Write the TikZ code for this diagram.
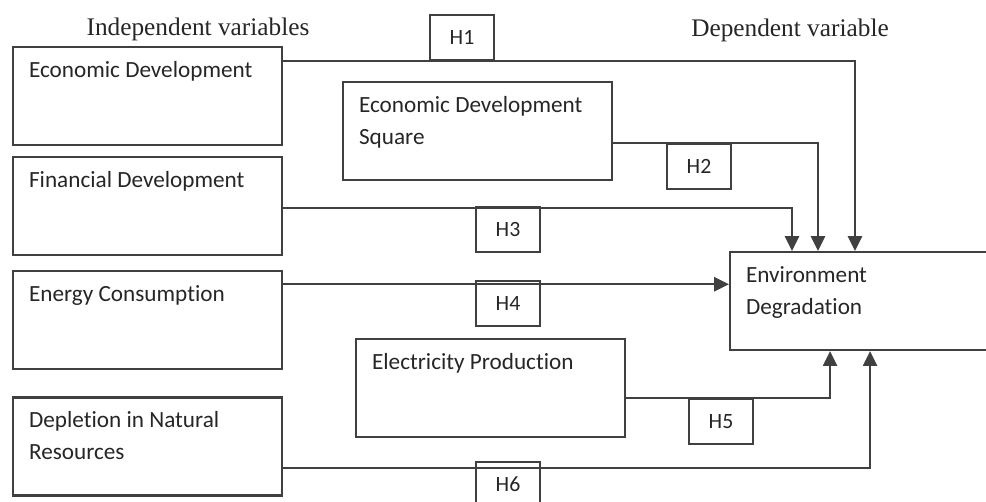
\documentclass[tikz,border=0pt]{standalone}
\usepackage{fontspec}
\usepackage{tikz}
\usetikzlibrary{positioning,arrows.meta,calc}
\newfontfamily\boxfont[Ligatures=NoCommon]{Carlito}
\newfontfamily\headfont{Liberation Serif}
\definecolor{linegray}{HTML}{404040}
\definecolor{txtgray}{HTML}{262626}

\begin{document}
\begin{tikzpicture}[x=0.025cm, y=-0.025cm]
\tikzset{
    block/.style={rectangle, draw=linegray, line width=1.5pt, minimum width=6.72cm, minimum height=2.45cm, inner sep=0pt},
    txt/.style={anchor=north west, inner sep=0pt, xshift=0.42cm, yshift=-0.37cm, align=left, text=txtgray, font=\boxfont\fontsize{16.5}{22.8}\selectfont},
    hyp/.style={rectangle, draw=linegray, line width=1.4pt, minimum width=1.6cm, minimum height=1.12cm, inner sep=0pt, text=txtgray, font=\boxfont\fontsize{15.5}{18}\selectfont},
    head/.style={text=txtgray, inner sep=0pt, font=\headfont\fontsize{18}{21}\selectfont},
    arrow/.style={-{Triangle[length=10.5pt, width=10pt]}, draw=linegray, line width=1.5pt}
}
\useasboundingbox (0,0) rectangle (986,501);
\clip (0,0) rectangle (986,501);

% headings
\node[head, anchor=base] (indep) at (198,35) {Independent variables};
\node[head, anchor=base] (dep) at (790,36) {Dependent variable};

% independent variables
\node[block, anchor=north west, label={[txt]north west:Economic Development}] (ed) at (12,46) {};
\node[block, below=0.25cm of ed, label={[txt]north west:Financial Development}] (fd) {};
\node[block, below=0.35cm of fd, label={[txt]north west:Energy Consumption}] (ec) {};
\node[block, below=0.65cm of ec, label={[txt]north west:Depletion in Natural\\Resources}] (dn) {};
\node[block, anchor=north west, label={[txt]north west:Economic Development\\Square}] (eds) at (342,81) {};
\node[block, anchor=north west, label={[txt]north west:Electricity Production}] (elec) at (355,338) {};

% dependent variable
\node[block, anchor=north west, label={[txt]north west:Environment\\Degradation}] (env) at (729,251) {};

% hypotheses
\node[hyp, anchor=south west] (h1) at (429,61) {H1};
\node[hyp, anchor=north west] (h2) at (666,143) {H2};
\node[hyp, anchor=north west] (h3) at (475,206) {H3};
\node[hyp, anchor=north west] (h4) at (475,280) {H4};
\node[hyp, anchor=north west] (h5) at (688,398) {H5};
\node[hyp, anchor=north west] (h6) at (475,461) {H6};

% paths
\draw[arrow] ($(ed.north east)+(0,15)$) -| ($(env.north west)+(126,0)$);
\draw[arrow] ($(eds.north east)+(0,62)$) -| ($(env.north west)+(89,0)$);
\draw[arrow] ($(fd.north east)+(0,52)$) -| ($(env.north west)+(63,0)$);
\draw[arrow] ($(ec.north east)+(0,14)$) coordinate (ecout) -- (ecout -| env.west);
\draw[arrow] ($(elec.north east)+(0,60)$) -| ($(env.south west)+(101,0)$);
\draw[arrow] ($(dn.north east)+(0,72)$) -| ($(env.south west)+(141,0)$);
\end{tikzpicture}
\end{document}
